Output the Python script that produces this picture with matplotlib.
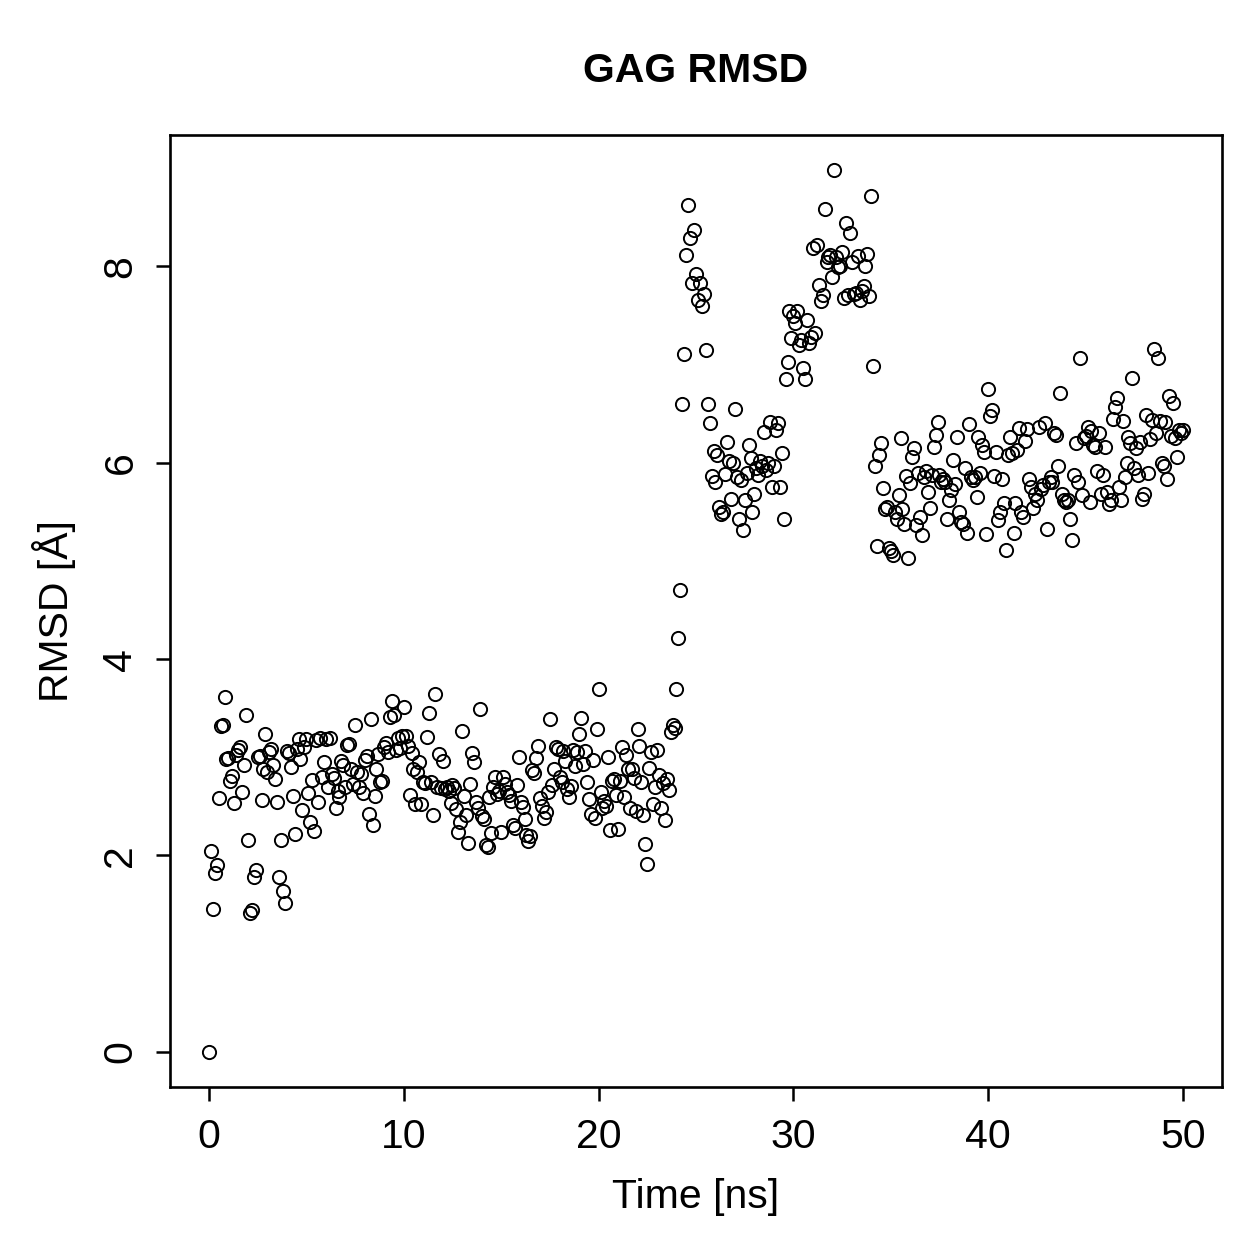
import matplotlib
matplotlib.use("Agg")
import matplotlib.pyplot as plt
import numpy as np

# RMSD values, 0.1 ns per frame (one row per ns)
rmsd_0_10 = [
    0.00, 2.05, 1.45, 1.82, 1.90, 2.58, 3.32, 3.33, 3.61, 2.98,
    2.99, 2.76, 2.81, 2.53, 3.02, 3.07, 3.10, 2.65, 2.92, 3.43,
    2.16, 1.41, 1.44, 1.78, 1.85, 3.00, 3.01, 2.56, 2.88, 3.24,
    2.85, 3.05, 3.08, 2.92, 2.78, 2.54, 1.78, 2.16, 1.64, 1.52,
    3.06, 3.04, 2.90, 2.61, 2.22, 3.08, 3.19, 2.98, 2.46, 3.10,
    3.19, 2.64, 2.34, 2.77, 2.25, 3.18, 2.54, 3.20, 2.80, 2.95,
    3.19, 2.70, 3.20, 2.83, 2.79, 2.48, 2.66, 2.60, 2.96, 2.92,
    2.70, 3.12, 3.14, 2.88, 2.73, 3.33, 2.85, 2.70, 2.83, 2.64,
    2.97, 3.01, 2.42, 3.39, 2.31, 2.61, 2.88, 3.03, 2.75, 2.76,
    3.10, 3.15, 3.05, 3.41, 3.57, 3.43, 3.07, 3.20, 3.09, 3.22,
]
rmsd_10_20 = [
    3.51, 3.22, 3.11, 2.62, 3.04, 2.88, 2.52, 2.85, 2.95, 2.52,
    2.75, 2.74, 3.21, 3.45, 2.75, 2.41, 3.64, 2.70, 3.03, 2.69,
    2.96, 2.68, 2.70, 2.66, 2.53, 2.72, 2.69, 2.47, 2.24, 2.34,
    3.27, 2.61, 2.41, 2.13, 2.73, 3.04, 2.95, 2.54, 2.48, 3.49,
    2.40, 2.37, 2.11, 2.09, 2.60, 2.23, 2.70, 2.80, 2.63, 2.66,
    2.24, 2.80, 2.73, 2.65, 2.62, 2.55, 2.31, 2.28, 2.72, 3.00,
    2.54, 2.49, 2.37, 2.21, 2.15, 2.20, 2.87, 2.84, 2.99, 3.11,
    2.59, 2.50, 2.38, 2.44, 2.65, 3.39, 2.72, 2.88, 3.10, 3.08,
    2.80, 2.75, 3.06, 2.96, 2.68, 2.60, 2.71, 3.07, 2.91, 3.05,
    3.24, 3.40, 2.93, 3.06, 2.75, 2.57, 2.42, 2.97, 2.38, 3.29,
]
rmsd_20_30 = [
    3.70, 2.65, 2.48, 2.55, 2.50, 3.00, 2.26, 2.76, 2.78, 2.62,
    2.27, 2.76, 3.10, 2.60, 3.02, 2.88, 2.48, 2.88, 2.79, 2.45,
    3.29, 3.11, 2.75, 2.41, 2.12, 1.91, 2.89, 3.05, 2.52, 2.70,
    3.07, 2.82, 2.48, 2.74, 2.36, 2.78, 2.67, 3.26, 3.33, 3.30,
    3.70, 4.21, 4.70, 6.60, 7.11, 8.12, 8.63, 8.29, 7.83, 8.37,
    7.92, 7.66, 7.83, 7.60, 7.72, 7.15, 6.60, 6.40, 5.87, 6.12,
    5.80, 6.08, 5.55, 5.48, 5.50, 5.89, 6.21, 6.02, 5.63, 6.00,
    6.55, 5.85, 5.43, 5.82, 5.32, 5.62, 5.90, 6.18, 6.05, 5.50,
    5.68, 5.95, 5.88, 6.02, 5.97, 6.31, 5.93, 6.00, 6.42, 5.75,
    5.97, 6.33, 6.41, 5.75, 6.10, 5.43, 6.85, 7.03, 7.55, 7.27,
]
rmsd_30_40 = [
    7.50, 7.42, 7.55, 7.20, 7.25, 6.97, 6.85, 7.45, 7.22, 7.28,
    8.19, 7.32, 8.22, 7.81, 7.65, 7.71, 8.58, 8.05, 8.10, 8.12,
    7.89, 8.98, 8.10, 7.99, 8.00, 8.15, 7.68, 8.44, 7.71, 8.34,
    8.05, 7.72, 7.73, 8.11, 7.66, 7.75, 7.80, 8.00, 8.13, 7.70,
    8.72, 6.99, 5.97, 5.15, 6.08, 6.20, 5.74, 5.53, 5.55, 5.13,
    5.10, 5.06, 5.50, 5.43, 5.67, 6.25, 5.53, 5.38, 5.87, 5.03,
    5.79, 6.06, 6.15, 5.37, 5.90, 5.45, 5.26, 5.85, 5.92, 5.70,
    5.54, 5.88, 6.16, 6.28, 6.42, 5.88, 5.80, 5.83, 5.80, 5.43,
    5.62, 5.72, 6.03, 5.78, 6.26, 5.50, 5.40, 5.38, 5.95, 5.28,
    6.39, 5.85, 5.82, 5.85, 5.65, 6.26, 5.90, 6.18, 6.11, 5.27,
]
rmsd_40_50 = [
    6.75, 6.48, 6.54, 5.87, 6.11, 5.42, 5.50, 5.83, 5.59, 5.11,
    6.08, 6.26, 6.10, 5.28, 5.59, 6.13, 6.35, 5.50, 5.45, 6.22,
    6.34, 5.83, 5.75, 5.54, 5.68, 5.62, 6.36, 5.73, 5.77, 6.40,
    5.33, 5.80, 5.85, 5.80, 6.30, 6.28, 5.97, 6.71, 5.68, 5.62,
    5.60, 5.62, 5.43, 5.21, 5.88, 6.20, 5.80, 7.07, 5.67, 6.25,
    6.27, 6.36, 5.60, 6.32, 6.18, 6.16, 5.92, 6.30, 5.68, 5.88,
    6.16, 5.70, 5.58, 5.62, 6.45, 6.57, 6.66, 5.75, 5.62, 6.43,
    5.85, 6.00, 6.26, 6.20, 6.86, 5.95, 6.15, 5.88, 6.21, 5.63,
    5.68, 6.49, 5.90, 6.24, 6.44, 7.16, 6.30, 7.07, 6.43, 6.00,
    5.97, 6.42, 5.83, 6.68, 6.27, 6.61, 6.25, 6.06, 6.33, 6.30,
    6.33,
]
rmsd = np.array(rmsd_0_10 + rmsd_10_20 + rmsd_20_30 + rmsd_30_40 + rmsd_40_50)
time_ns = np.arange(len(rmsd)) * 0.1

xticks = [0, 10, 20, 30, 40, 50]
yticks = [0, 2, 4, 6, 8]

plt.rcParams['font.family'] = ['Liberation Sans', 'DejaVu Sans']

fig = plt.figure(figsize=(12.59, 12.59), dpi=100)
ax = fig.add_axes([0.135, 0.1366, 0.8356, 0.7562])

ax.plot(time_ns, rmsd, linestyle='none', marker='o', markersize=9.5,
        markerfacecolor='none', markeredgecolor='black', markeredgewidth=1.4)

# R style 4% padding
xr = time_ns.max() - time_ns.min()
yr = rmsd.max() - rmsd.min()
ax.set_xlim(time_ns.min() - 0.04 * xr, time_ns.max() + 0.04 * xr)
ax.set_ylim(rmsd.min() - 0.04 * yr, rmsd.max() + 0.04 * yr)

ax.set_xticks(xticks)
ax.set_yticks(yticks)
ax.set_xticklabels([str(t) for t in xticks])
ax.set_yticklabels([str(t) for t in yticks], rotation=90, va='center')
ax.tick_params(direction='out', length=10, width=1.8, labelsize=29.5, pad=12)

for s in ax.spines.values():
    s.set_linewidth(1.9)

ax.set_xlabel("Time [ns]", fontsize=29.5, labelpad=16)
ax.set_ylabel("RMSD [Å]", fontsize=29.5, labelpad=18)
ax.set_title("GAG RMSD", fontsize=29.5, fontweight='bold', pad=38)

fig.savefig("out.png", dpi=100)
